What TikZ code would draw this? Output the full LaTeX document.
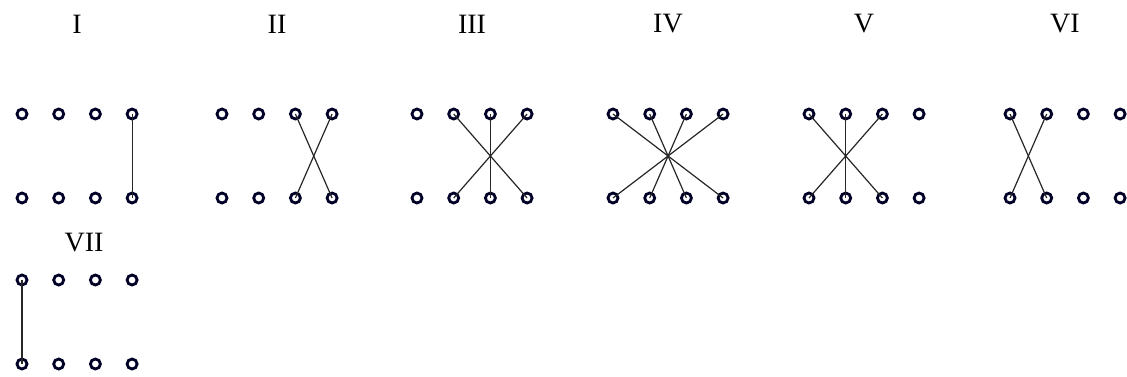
\documentclass[tikz,border=0pt]{standalone}
\usepackage{fontspec}
\setmainfont{Liberation Serif}
\begin{document}
\begin{tikzpicture}[x=1pt,y=-1pt,
  pin/.style={circle,draw=black!85!blue,line width=2.8pt,minimum size=10pt,inner sep=0pt},
  wire/.style={draw=black!85,line width=1.2pt},
  lbl/.style={font=\fontsize{28}{30}\selectfont,inner sep=0pt}]
\useasboundingbox (0,0) rectangle (1127,376);
% group positions
\foreach \g/\x/\y in {1/22/114, 2/222/114, 3/417/114, 4/613/114, 5/809/114, 6/1010/114, 7/22/280}{
  \foreach \i in {1,...,4}{
    \node[pin] (t\g\i) at ({\x+(\i-1)*36.7},\y) {};
    \node[pin] (b\g\i) at ({\x+(\i-1)*36.7},\y+84) {};
  }
}
% labels
\node[lbl] (L1) at (77,24) {I};
\node[lbl] (L2) at (277,24) {II};
\node[lbl] (L3) at (472,24) {III};
\node[lbl] (L4) at (668,24) {IV};
\node[lbl] (L5) at (864,24) {V};
\node[lbl] (L6) at (1065,24) {VI};
\node[lbl] (L7) at (84,243) {VII};
% connections
\draw[wire] (t14.center) -- (b14.center);
\draw[wire] (t23.center) -- (b24.center);
\draw[wire] (t24.center) -- (b23.center);
\draw[wire] (t32.center) -- (b34.center);
\draw[wire] (t33.center) -- (b33.center);
\draw[wire] (t34.center) -- (b32.center);
\draw[wire] (t41.center) -- (b44.center);
\draw[wire] (t42.center) -- (b43.center);
\draw[wire] (t43.center) -- (b42.center);
\draw[wire] (t44.center) -- (b41.center);
\draw[wire] (t51.center) -- (b53.center);
\draw[wire] (t52.center) -- (b52.center);
\draw[wire] (t53.center) -- (b51.center);
\draw[wire] (t61.center) -- (b62.center);
\draw[wire] (t62.center) -- (b61.center);
\draw[wire] (t71.center) -- (b71.center);
\end{tikzpicture}
\end{document}
